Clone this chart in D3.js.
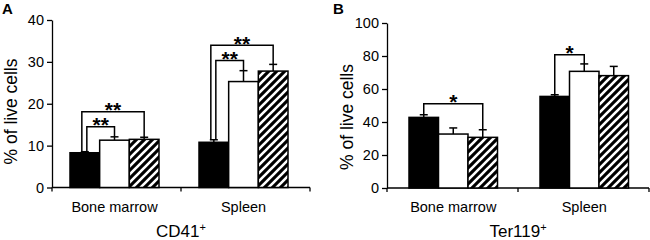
<!DOCTYPE html>
<html>
<head>
<meta charset="utf-8">
<script src="https://cdn.jsdelivr.net/npm/d3@7"></script>
<style>
  body { margin: 0; background: #fff; }
  svg { display: block; font-family: "Liberation Sans", Arial, sans-serif; }
</style>
</head>
<body>
<div id="chart"></div>
<script>
// data
const categories = ["Bone marrow", "Spleen"];
const barKinds = ["black", "white", "hatched"];

const cd41Mean = [[8.3, 11.3, 11.5], [10.8, 25.3, 27.8]];
const cd41Err = [[0.25, 0.8, 0.5], [0.6, 2.6, 1.6]];
const cd41Ticks = [0, 10, 20, 30, 40];
// brackets: group index, left bar, right bar, height (data units), label
const cd41Sig = [
    [0, 0, 1, 14.5, "**"],
    [0, 0, 2, 18.1, "**"],
    [1, 0, 1, 30.3, "**"],
    [1, 0, 2, 34.0, "**"]
];

const terMean = [[42.8, 32.7, 30.7], [55.5, 70.7, 68.1]];
const terErr = [[1.6, 3.7, 4.6], [1.0, 4.5, 5.6]];
const terTicks = [0, 20, 40, 60, 80, 100];
const terSig = [
    [0, 0, 2, 51.1, "*"],
    [1, 0, 1, 80.8, "*"]
];

const svg = d3.select("#chart").append("svg")
    .attr("width", 650)
    .attr("height", 240);

// white diagonal stripes on black
const pat = svg.append("defs").append("pattern")
    .attr("id", "hatch")
    .attr("patternUnits", "userSpaceOnUse")
    .attr("width", 8)
    .attr("height", 8);
pat.append("rect").attr("width", 8).attr("height", 8).attr("fill", "#000");
pat.append("path")
    .attr("d", "M-2,2 l4,-4 M0,8 l8,-8 M6,10 l4,-4")
    .attr("stroke", "#fff")
    .attr("stroke-width", 2.6);

function fillFor(k) {
    if (k === "black") return "#000";
    if (k === "white") return "#fff";
    return "url(#hatch)";
}

function drawPanel(cfg) {
    const y = d3.scaleLinear()
        .domain([0, d3.max(cfg.ticks)])
        .range([cfg.bottom, cfg.top]);

    const x0 = d3.scaleBand()
        .domain(categories)
        .range([cfg.left, cfg.right]);

    const x1 = d3.scaleBand()
        .domain(barKinds)
        .range(cfg.inner);

    const g = svg.append("g");

    // y axis
    g.append("g")
        .attr("transform", `translate(${cfg.left},0)`)
        .call(d3.axisLeft(y).tickValues(cfg.ticks).tickSize(5).tickPadding(3).tickSizeOuter(0))
        .call(a => a.select(".domain").attr("stroke-width", 1.3))
        .call(a => a.selectAll(".tick line").attr("stroke-width", 1.3))
        .call(a => a.selectAll("text")
            .style("font-size", "14.5px")
            .style("font-family", "Liberation Sans, Arial, sans-serif")
            .attr("fill", "#000"));

    // x axis: line plus ticks at category boundaries
    const bounds = [cfg.left].concat(categories.map(c => x0(c) + x0.bandwidth()));
    g.append("line")
        .attr("x1", cfg.left).attr("x2", cfg.right)
        .attr("y1", y(0)).attr("y2", y(0))
        .attr("stroke", "#000").attr("stroke-width", 1.3);
    g.selectAll(".xtick")
        .data(bounds)
        .join("line")
        .attr("x1", d => d).attr("x2", d => d)
        .attr("y1", y(0)).attr("y2", y(0) + 4)
        .attr("stroke", "#000").attr("stroke-width", 1.3);

    // bars
    const rows = [];
    categories.forEach((c, gi) => {
        barKinds.forEach((k, bi) => {
            rows.push({c, gi, k, bi, v: cfg.mean[gi][bi], e: cfg.err[gi][bi]});
        });
    });
    const bx = d => x0(d.c) + x1(d.k);
    const cx = d => bx(d) + x1.bandwidth() / 2;

    // error bars (upper only)
    g.append("g")
        .attr("stroke", "#000")
        .attr("stroke-width", 1.5)
        .selectAll("g")
        .data(rows)
        .join("g")
        .each(function(d) {
            const s = d3.select(this);
            s.append("line")
                .attr("x1", cx(d)).attr("x2", cx(d))
                .attr("y1", y(d.v)).attr("y2", y(d.v + d.e));
            s.append("line")
                .attr("x1", cx(d) - 4).attr("x2", cx(d) + 4)
                .attr("y1", y(d.v + d.e)).attr("y2", y(d.v + d.e));
        });

    g.append("g")
        .selectAll("rect")
        .data(rows)
        .join("rect")
        .attr("x", bx)
        .attr("y", d => y(d.v))
        .attr("width", x1.bandwidth())
        .attr("height", d => y(0) - y(d.v))
        .attr("fill", d => fillFor(d.k))
        .attr("stroke", "#000")
        .attr("stroke-width", 1.5);

    // significance brackets
    cfg.sig.forEach(s => {
        const [gi, a, b, level, label] = s;
        const ra = rows.find(r => r.gi === gi && r.bi === a);
        const rb = rows.find(r => r.gi === gi && r.bi === b);
        const shared = cfg.sig.filter(t => t[0] === gi && t[1] === a);
        let off = 0;
        if (shared.length > 1) {
            const top = d3.max(shared, t => t[3]);
            off = level === top ? -3 : 2;
        }
        const xa = cx(ra) + off;
        const xb = cx(rb);
        const yl = y(level);
        g.append("path")
            .attr("d", `M${xa},${y(ra.v + ra.e)}V${yl}H${xb}V${y(rb.v + rb.e)}`)
            .attr("fill", "none")
            .attr("stroke", "#000")
            .attr("stroke-width", 1.5);
        g.append("text")
            .attr("x", (xa + xb) / 2)
            .attr("y", yl + 5.5)
            .attr("text-anchor", "middle")
            .style("font-size", "21px")
            .style("font-weight", "bold")
            .text(label);
    });

    // category labels
    categories.forEach((c, gi) => {
        const mid = x0(c) + (x1.range()[0] + x1.range()[1]) / 2;
        g.append("text")
            .attr("x", mid)
            .attr("y", 211.5)
            .attr("text-anchor", "middle")
            .style("font-size", "14.5px")
            .text(c);
    });

    // axis title and panel letter
    g.append("text")
        .attr("transform", `translate(${cfg.ytitleX},${cfg.ytitleY}) rotate(-90)`)
        .attr("text-anchor", "middle")
        .style("font-size", "17.5px")
        .text("% of live cells");

    const t = g.append("text")
        .attr("x", (cfg.left + cfg.right) / 2)
        .attr("y", 237)
        .attr("text-anchor", "middle")
        .style("font-size", "17px");
    t.append("tspan").text(cfg.title);
    t.append("tspan")
        .attr("dy", -6)
        .style("font-size", "11px")
        .text("+");

    g.append("text")
        .attr("x", cfg.letterX)
        .attr("y", 13.5)
        .style("font-size", "15px")
        .style("font-weight", "bold")
        .text(cfg.letter);
}

drawPanel({
    letter: "A", letterX: 2,
    title: "CD41",
    mean: cd41Mean, err: cd41Err, ticks: cd41Ticks, sig: cd41Sig,
    left: 52, right: 310, top: 20, bottom: 187.5,
    inner: [18, 107],
    ytitleX: 16.5, ytitleY: 111.5
});

drawPanel({
    letter: "B", letterX: 333,
    title: "Ter119",
    mean: terMean, err: terErr, ticks: terTicks, sig: terSig,
    left: 387, right: 649, top: 23, bottom: 188,
    inner: [22, 110.5],
    ytitleX: 352.5, ytitleY: 117
});
</script>
</body>
</html>
